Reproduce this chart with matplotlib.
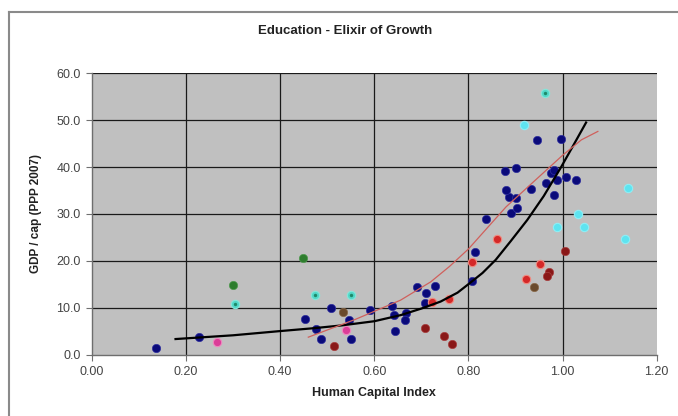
import matplotlib.pyplot as plt
from matplotlib.lines import Line2D

plt.rcParams["font.family"] = ["Liberation Sans", "DejaVu Sans"]

# country groups: (human capital index, GDP per capita in thousand PPP 2007)
navy_x = [0.136, 0.227, 0.452, 0.508, 0.477, 0.488, 0.547, 0.550, 0.591, 0.638,
          0.642, 0.645, 0.667, 0.665, 0.690, 0.711, 0.729, 0.708, 0.808, 0.814,
          0.837, 0.890, 0.904, 0.886, 0.901, 0.879, 0.933, 0.878, 0.901, 0.964,
          0.982, 0.975, 0.982, 0.989, 1.007, 1.028, 0.945, 0.996]
navy_y = [1.4, 3.7, 7.6, 9.9, 5.4, 3.4, 7.4, 3.4, 9.4, 10.4,
          8.4, 5.0, 8.8, 7.4, 14.5, 13.1, 14.6, 10.9, 15.6, 21.8,
          28.9, 30.2, 31.2, 33.7, 33.4, 35.1, 35.3, 39.1, 39.8, 36.6,
          34.1, 38.7, 39.4, 37.3, 37.8, 37.3, 45.7, 46.0]

cyan_x = [0.918, 1.138, 1.033, 0.988, 1.046, 1.133]
cyan_y = [49.0, 35.5, 30.0, 27.3, 27.3, 24.6]

turq_x = [0.305, 0.475, 0.550, 0.963]
turq_y = [10.8, 12.6, 12.7, 55.8]

green_x = [0.301, 0.448]
green_y = [14.9, 20.5]

pink_x = [0.267, 0.539]
pink_y = [2.7, 5.2]

brown_x = [0.533, 0.940]
brown_y = [9.1, 14.4]

maroon_x = [0.514, 0.708, 0.748, 0.765, 1.006, 0.972, 0.968]
maroon_y = [1.8, 5.6, 4.0, 2.2, 22.0, 17.7, 16.8]

red_x = [0.723, 0.759, 0.808, 0.860, 0.952, 0.922]
red_y = [11.1, 11.8, 19.7, 24.6, 19.3, 16.1]

# trend lines
trend_black_x = [0.178, 0.30, 0.40, 0.47, 0.53, 0.60, 0.656, 0.70, 0.741, 0.777,
                 0.80, 0.83, 0.858, 0.89, 0.925, 0.96, 0.997, 1.02, 1.050]
trend_black_y = [3.3, 4.1, 5.0, 5.6, 6.2, 7.1, 8.4, 9.8, 11.3, 13.2,
                 15.0, 17.4, 20.2, 24.2, 28.7, 33.8, 40.0, 44.1, 49.5]
trend_red_x = [0.46, 0.56, 0.656, 0.72, 0.76, 0.80, 0.84, 0.88, 0.94, 1.00,
               1.04, 1.075]
trend_red_y = [3.7, 7.5, 11.6, 15.5, 18.8, 22.5, 27.0, 31.5, 37.0, 42.5,
               45.8, 47.6]

x_ticks = [0.0, 0.2, 0.4, 0.6, 0.8, 1.0, 1.2]
y_ticks = [0, 10, 20, 30, 40, 50, 60]

fig = plt.figure(figsize=(6.78, 4.16), dpi=100)
ax = fig.add_axes([0.1353, 0.1478, 0.8333, 0.676])
ax.set_facecolor("#C0C0C0")

# chart frame (left and top edge of the embedded chart object)
fig.add_artist(Line2D([0.0133, 0.0133], [0.0, 0.972], color="#8A8A8A", lw=1.5))
fig.add_artist(Line2D([0.0133, 1.0], [0.972, 0.972], color="#8A8A8A", lw=1.5))

for v in x_ticks[1:-1]:
    ax.axvline(v, color="#1A1A1A", lw=0.9, zorder=1)
for v in y_ticks[1:]:
    ax.axhline(v, color="#1A1A1A", lw=0.9, zorder=1)

ax.plot(trend_black_x, trend_black_y, color="black", lw=1.6, zorder=4,
        solid_joinstyle="round")
ax.plot(trend_red_x, trend_red_y, color="#D0605C", lw=0.9, zorder=4)

dot = 36
ax.scatter(navy_x, navy_y, s=dot, color="#0A0A7A", edgecolors="#3030A0", lw=0.5, zorder=3)
ax.scatter(cyan_x, cyan_y, s=dot, color="#5EE4F0", edgecolors="#8EEEF5", lw=0.8, zorder=3)
ax.scatter(turq_x, turq_y, s=dot, color="#52D8C8", edgecolors="#86E6DA", lw=0.8, zorder=3)
ax.scatter(turq_x, turq_y, s=6, color="#1F8A6A", lw=0, zorder=3)
ax.scatter(green_x, green_y, s=dot, color="#2E7D2E", edgecolors="#4F9A4F", lw=0.5, zorder=3)
ax.scatter(pink_x, pink_y, s=dot, color="#DB3D98", edgecolors="#EE88C0", lw=0.8, zorder=3)
ax.scatter(brown_x, brown_y, s=dot, color="#6A4A2C", edgecolors="#8A6A4A", lw=0.5, zorder=3)
ax.scatter(maroon_x, maroon_y, s=dot, color="#8A1818", edgecolors="#A84040", lw=0.5, zorder=3)
ax.scatter(red_x, red_y, s=dot, color="#D42828", edgecolors="#F08A80", lw=0.8, zorder=3)

ax.set_xlim(0, 1.2)
ax.set_ylim(0, 60)
ax.set_xticks(x_ticks)
ax.set_xticklabels([f"{v:.2f}" for v in x_ticks])
ax.set_yticks(y_ticks)
ax.set_yticklabels([f"{v:.1f}" for v in y_ticks])
ax.tick_params(direction="out", length=4, width=0.8, color="#707070",
               labelsize=9, labelcolor="#444444", pad=4)

for side in ["top", "right"]:
    ax.spines[side].set_visible(False)
for side in ["left", "bottom"]:
    ax.spines[side].set_color("#6E6E6E")
    ax.spines[side].set_linewidth(1.0)

ax.set_xlabel("Human Capital Index", fontsize=9, fontweight="bold", color="#222222", labelpad=7)
ax.set_ylabel("GDP / cap (PPP 2007)", fontsize=8.5, fontweight="bold", color="#222222", labelpad=10)
fig.text(0.509, 0.926, "Education - Elixir of Growth", ha="center", va="center",
         fontsize=9.5, fontweight="bold", color="#222222")

fig.savefig("out.png", dpi=100)
